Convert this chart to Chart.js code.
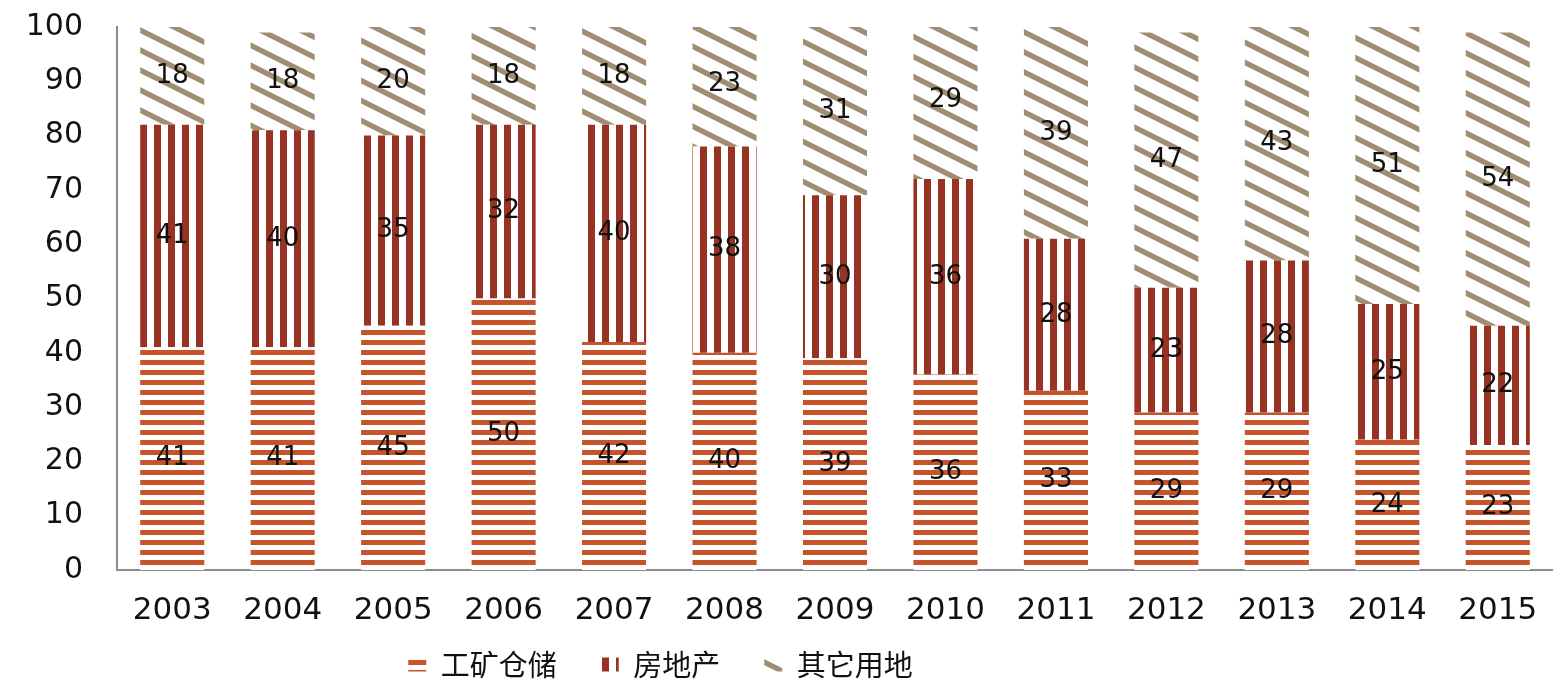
<!DOCTYPE html>
<html>
<head>
<meta charset="utf-8">
<script src="https://cdn.jsdelivr.net/npm/chart.js@4"></script>
<style>
html,body{margin:0;padding:0;background:#fff;}
#wrap{width:1553px;height:692px;position:relative;}
</style>
</head>
<body>
<div id="wrap"><canvas id="c" width="1553" height="692"></canvas></div>
<script>
const categories = ['2003','2004','2005','2006','2007','2008','2009','2010','2011','2012','2013','2014','2015'];
const industrial = [41,41,45,50,42,40,39,36,33,29,29,24,23];
const realEstate = [41,40,35,32,40,38,30,36,28,23,28,25,22];
const otherLand  = [18,18,20,18,18,23,31,29,39,47,43,51,54];
const seriesNames = ['工矿仓储','房地产','其它用地'];
const yTicks = [0,10,20,30,40,50,60,70,80,90,100];

function makePattern(w, h, draw) {
  const c = document.createElement('canvas');
  c.width = w; c.height = h;
  const g = c.getContext('2d');
  g.fillStyle = '#ffffff';
  g.fillRect(0,0,w,h);
  draw(g);
  return document.getElementById('c').getContext('2d').createPattern(c, 'repeat');
}
const patH = makePattern(10, 10, g => { g.fillStyle = '#c7532b'; g.fillRect(0,0,10,5); });
const patV = makePattern(14, 10, g => { g.fillStyle = '#983222'; g.fillRect(0,0,7,10); });
const patD = makePattern(40, 20, g => {
  g.strokeStyle = '#a08e73'; g.lineWidth = 5.4;
  for (const c0 of [-20, 0, 20]) {
    g.beginPath(); g.moveTo(-10, -5 + c0); g.lineTo(50, 25 + c0); g.stroke();
  }
});

const labelPlugin = {
  id: 'segLabels',
  afterDatasetsDraw(chart) {
    const ctx = chart.ctx;
    ctx.save();
    ctx.font = '26px "DejaVu Sans"';
    ctx.fillStyle = '#111';
    ctx.textAlign = 'center';
    ctx.textBaseline = 'middle';
    chart.data.datasets.forEach((ds, i) => {
      const meta = chart.getDatasetMeta(i);
      meta.data.forEach((bar, j) => {
        const p = bar.getProps(['x','y','base'], true);
        ctx.fillText(String(ds.data[j]), p.x, (p.y + p.base) / 2);
      });
    });
    ctx.restore();
  }
};
const legendShift = {
  id: 'legendShift',
  afterLayout(chart) {
    const lg = chart.legend;
    if (lg) { lg.left -= 116; lg.right -= 116; lg.top = 606; lg.bottom = 692; lg.height = 86; }
  }
};

new Chart(document.getElementById('c'), {
  type: 'bar',
  data: {
    labels: categories,
    datasets: [
      { label: seriesNames[0], data: industrial, backgroundColor: patH, borderWidth: 0 },
      { label: seriesNames[1], data: realEstate, backgroundColor: patV, borderWidth: 0 },
      { label: seriesNames[2], data: otherLand, backgroundColor: patD, borderWidth: 0 }
    ]
  },
  options: {
    responsive: false,
    animation: false,
    devicePixelRatio: 1,
    layout: { padding: { top: 27, right: 0, left: 0, bottom: 0 } },
    datasets: { bar: { categoryPercentage: 1.0, barPercentage: 0.58 } },
    plugins: {
      legend: {
        position: 'bottom',
        maxHeight: 52,
        labels: {
          font: { family: '"Noto Sans CJK SC"', size: 29 },
          color: '#111',
          boxWidth: 18, boxHeight: 14,
          padding: 44
        }
      },
      tooltip: { enabled: false }
    },
    scales: {
      x: {
        stacked: true,
        grid: { display: false, drawTicks: false },
        border: { display: true, color: '#8c8c8c', width: 2 },
        ticks: { font: { family: '"DejaVu Sans"', size: 31 }, color: '#111', padding: 22, maxRotation: 0 },
        afterFit(s) { s.height = 70; s.paddingLeft = 0; s.paddingRight = 0; }
      },
      y: {
        stacked: true,
        min: 0, max: 100,
        afterBuildTicks(s) { s.ticks = yTicks.map(v => ({ value: v })); },
        grid: { display: false, drawTicks: false },
        border: { display: true, color: '#8c8c8c', width: 2 },
        ticks: { font: { family: '"DejaVu Sans"', size: 30 }, color: '#111', padding: 34 },
        afterFit(s) { s.width = 117; s.paddingTop = 10; s.paddingBottom = 10; }
      }
    }
  },
  plugins: [labelPlugin, legendShift]
});
</script>
</body>
</html>
